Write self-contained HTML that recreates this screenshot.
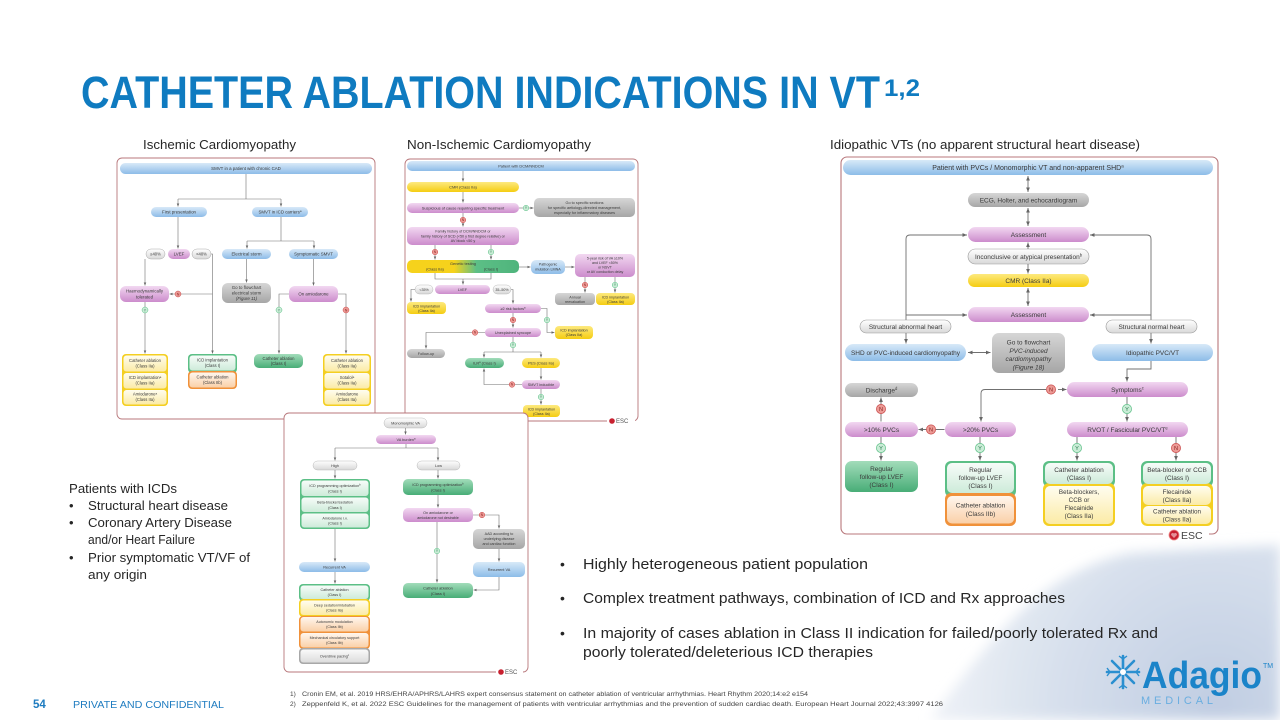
<!DOCTYPE html>
<html><head><meta charset="utf-8"><style>
html,body{margin:0;padding:0;background:#fff}
svg{display:block}
.n{font-family:"Liberation Sans",sans-serif;text-anchor:middle;fill:#3a3a3a}
.c{stroke:#707070;stroke-width:.6;fill:none}
.c2{stroke:#707070;stroke-width:.9;fill:none}
.f{fill:#fff;stroke:#b8777b;stroke-width:.9}
.t{font-family:"Liberation Sans",sans-serif;fill:#262626}
</style></head><body>
<svg width="1280" height="720" viewBox="0 0 1280 720" xmlns="http://www.w3.org/2000/svg">
<defs>
<linearGradient id="gb" x1="0" y1="0" x2="0" y2="1"><stop offset="0" stop-color="#d8e9f8"/><stop offset="1" stop-color="#8dbce8"/></linearGradient>
<linearGradient id="gp" x1="0" y1="0" x2="0" y2="1"><stop offset="0" stop-color="#f2d8f1"/><stop offset="1" stop-color="#cc8ccc"/></linearGradient>
<linearGradient id="gg" x1="0" y1="0" x2="0" y2="1"><stop offset="0" stop-color="#d6d6d6"/><stop offset="1" stop-color="#a6a6a6"/></linearGradient>
<linearGradient id="gl" x1="0" y1="0" x2="0" y2="1"><stop offset="0" stop-color="#ffffff"/><stop offset="1" stop-color="#d8d8d8"/></linearGradient>
<linearGradient id="gy" x1="0" y1="0" x2="0" y2="1"><stop offset="0" stop-color="#fde97f"/><stop offset="1" stop-color="#f5cd12"/></linearGradient>
<linearGradient id="gn" x1="0" y1="0" x2="0" y2="1"><stop offset="0" stop-color="#a2dcba"/><stop offset="1" stop-color="#48ad77"/></linearGradient>
<linearGradient id="gt" x1="0" y1="0" x2="1" y2="0"><stop offset="0" stop-color="#f6d21c"/><stop offset=".42" stop-color="#f6d21c"/><stop offset=".62" stop-color="#5cbf86"/><stop offset="1" stop-color="#4fb47c"/></linearGradient>
<linearGradient id="gyl" x1="0" y1="0" x2="0" y2="1"><stop offset="0" stop-color="#fffdf0"/><stop offset="1" stop-color="#fbeba6"/></linearGradient>
<linearGradient id="gnl" x1="0" y1="0" x2="0" y2="1"><stop offset="0" stop-color="#f7fcf9"/><stop offset="1" stop-color="#cdebd9"/></linearGradient>
<linearGradient id="gol" x1="0" y1="0" x2="0" y2="1"><stop offset="0" stop-color="#fff6ee"/><stop offset="1" stop-color="#fad0a8"/></linearGradient>
<linearGradient id="ggl" x1="0" y1="0" x2="0" y2="1"><stop offset="0" stop-color="#fafafa"/><stop offset="1" stop-color="#dcdcdc"/></linearGradient>
<radialGradient id="fr" cx="1215" cy="705" r="340" gradientUnits="userSpaceOnUse"><stop offset="0" stop-color="#c0cde2"/><stop offset=".45" stop-color="#d6dfec"/><stop offset=".8" stop-color="#ecf0f6"/><stop offset="1" stop-color="#ffffff"/></radialGradient>
<filter id="bl" x="-20%" y="-20%" width="140%" height="140%"><feGaussianBlur stdDeviation="6"/></filter>
<marker id="a" viewBox="0 0 6 6" refX="6" refY="3" markerWidth="3" markerHeight="3" markerUnits="userSpaceOnUse" orient="auto-start-reverse"><path d="M0,.5 L6,3 L0,5.5z" fill="#666"/></marker>
<marker id="b" viewBox="0 0 6 6" refX="6" refY="3" markerWidth="4.5" markerHeight="4.5" markerUnits="userSpaceOnUse" orient="auto-start-reverse"><path d="M0,.5 L6,3 L0,5.5z" fill="#666"/></marker>
</defs>

<!-- frost background -->
<path d="M930,720 C990,640 1040,572 1130,553 L1280,545 L1280,720 Z" fill="url(#fr)" filter="url(#bl)"/>

<!-- Title -->
<text x="81" y="108" class="t" font-size="45" font-weight="bold" fill="#0f7bc0" style="fill:#0f7bc0" textLength="799" lengthAdjust="spacingAndGlyphs">CATHETER ABLATION INDICATIONS IN VT</text>
<text x="884" y="96" class="t" font-size="24" font-weight="bold" style="fill:#0f7bc0" textLength="36" lengthAdjust="spacingAndGlyphs">1,2</text>

<!-- subheadings -->
<text x="143" y="149" class="t" font-size="12.5" textLength="153" lengthAdjust="spacingAndGlyphs">Ischemic Cardiomyopathy</text>
<text x="407" y="149" class="t" font-size="12.5" textLength="184" lengthAdjust="spacingAndGlyphs">Non-Ischemic Cardiomyopathy</text>
<text x="830" y="149" class="t" font-size="12.5" textLength="310" lengthAdjust="spacingAndGlyphs">Idiopathic VTs (no apparent structural heart disease)</text>

<!-- ================= LEFT CHART ================= -->
<rect x="117" y="158" width="258" height="261" rx="5" class="f"/>
<rect x="120" y="163" width="252" height="11" rx="5.5" fill="url(#gb)"/>
<text x="246" y="170" class="n" font-size="4.4">SMVT in a patient with chronic CAD</text>
<path class="c" d="M246,174 V199 M178,199 H281"/>
<line class="c" x1="178" y1="199" x2="178" y2="206.5" marker-end="url(#a)"/>
<line class="c" x1="281" y1="199" x2="281" y2="206.5" marker-end="url(#a)"/>
<rect x="151" y="207" width="56" height="10" rx="5" fill="url(#gb)"/>
<text x="179" y="213.5" class="n" font-size="4.4">First presentation</text>
<rect x="252" y="207" width="56" height="10" rx="5" fill="url(#gb)"/>
<text x="280" y="213.5" class="n" font-size="4.4">SMVT in ICD carriers<tspan font-size="3" dy="-1.5">a</tspan></text>
<line class="c" x1="178" y1="217" x2="178" y2="248.5" marker-end="url(#a)"/>
<rect x="146" y="249" width="19" height="10" rx="5" fill="url(#gl)" stroke="#aaa" stroke-width=".5"/>
<text x="155.5" y="255.5" class="n" font-size="4.2">≥40%</text>
<rect x="168" y="249" width="22" height="10" rx="5" fill="url(#gp)"/>
<text x="179" y="255.5" class="n" font-size="4.4">LVEF</text>
<rect x="192" y="249" width="19" height="10" rx="5" fill="url(#gl)" stroke="#aaa" stroke-width=".5"/>
<text x="201.5" y="255.5" class="n" font-size="4.2">&lt;40%</text>
<path class="c" d="M281,217 V241 M247,241 H314"/>
<line class="c" x1="247" y1="241" x2="247" y2="248.5" marker-end="url(#a)"/>
<line class="c" x1="314" y1="241" x2="314" y2="248.5" marker-end="url(#a)"/>
<rect x="222" y="249" width="49" height="10" rx="5" fill="url(#gb)"/>
<text x="246.5" y="255.5" class="n" font-size="4.4">Electrical storm</text>
<rect x="289" y="249" width="49" height="10" rx="5" fill="url(#gb)"/>
<text x="313.5" y="255.5" class="n" font-size="4.4">Symptomatic SMVT</text>
<line class="c" x1="145" y1="259" x2="145" y2="285.5" marker-end="url(#a)"/>
<rect x="120" y="286" width="49" height="16" rx="6" fill="url(#gp)"/>
<text x="144.5" y="292.5" class="n" font-size="4.4">Haemodynamically</text>
<text x="144.5" y="298.5" class="n" font-size="4.4">tolerated</text>
<path class="c" d="M211,254 H212.5 V353.5" marker-end="url(#a)"/>
<line class="c" x1="212.5" y1="294" x2="169.5" y2="294" marker-end="url(#a)"/>
<line class="c" x1="145" y1="302" x2="145" y2="353.5" marker-end="url(#a)"/>
<line class="c" x1="246.5" y1="259" x2="246.5" y2="282.5" marker-end="url(#a)"/>
<rect x="222" y="283" width="49" height="20" rx="6" fill="url(#gg)"/>
<text x="246.5" y="289" class="n" font-size="4.4">Go to flowchart</text>
<text x="246.5" y="294.5" class="n" font-size="4.4">electrical storm</text>
<text x="246.5" y="300" class="n" font-size="4.4" font-style="italic">(Figure 11)</text>
<line class="c" x1="313.5" y1="259" x2="313.5" y2="285.5" marker-end="url(#a)"/>
<rect x="289" y="286" width="49" height="16" rx="6" fill="url(#gp)"/>
<text x="313.5" y="295.5" class="n" font-size="4.4">On amiodarone</text>
<path class="c" d="M289,294 H279 V353.5" marker-end="url(#a)"/>
<path class="c" d="M338,294 H346 V353.5" marker-end="url(#a)"/>
<g><circle cx="178" cy="294" r="3" fill="#ec9a95" stroke="#c9494a" stroke-width=".5"/><text x="178" y="295.3" class="n" font-size="3.6" style="fill:#8a1f1f">N</text></g>
<g><circle cx="145" cy="310" r="3" fill="#c9ecd6" stroke="#5cbf86" stroke-width=".5"/><text x="145" y="311.3" class="n" font-size="3.6" style="fill:#2a7a4e">Y</text></g>
<g><circle cx="279" cy="310" r="3" fill="#c9ecd6" stroke="#5cbf86" stroke-width=".5"/><text x="279" y="311.3" class="n" font-size="3.6" style="fill:#2a7a4e">Y</text></g>
<g><circle cx="346" cy="310" r="3" fill="#ec9a95" stroke="#c9494a" stroke-width=".5"/><text x="346" y="311.3" class="n" font-size="3.6" style="fill:#8a1f1f">N</text></g>
<!-- left stacks -->
<rect x="122" y="354" width="46" height="52" rx="4" fill="#f4cf22"/>
<rect x="123.5" y="355.5" width="43" height="16" rx="3" fill="url(#gyl)"/>
<rect x="123.5" y="373" width="43" height="15.5" rx="3" fill="url(#gyl)"/>
<rect x="123.5" y="390" width="43" height="14.5" rx="3" fill="url(#gyl)"/>
<text x="145" y="362" class="n" font-size="4.2">Catheter ablation</text><text x="145" y="367.5" class="n" font-size="4.2">(Class IIa)</text>
<text x="145" y="379.2" class="n" font-size="4.2">ICD implantation<tspan font-size="3" dy="-1.4">a</tspan></text><text x="145" y="384.7" class="n" font-size="4.2">(Class IIa)</text>
<text x="145" y="395.7" class="n" font-size="4.2">Amiodarone<tspan font-size="3" dy="-1.4">a</tspan></text><text x="145" y="401.2" class="n" font-size="4.2">(Class IIa)</text>
<rect x="188" y="354" width="49" height="19" rx="4" fill="#5cbf86"/>
<rect x="188" y="371" width="49" height="18" rx="4" fill="#f0913a"/>
<rect x="189.5" y="355.5" width="46" height="15" rx="3" fill="url(#gnl)"/>
<rect x="189.5" y="372.5" width="46" height="15" rx="3" fill="url(#gol)"/>
<text x="212.5" y="361.5" class="n" font-size="4.2">ICD implantation</text><text x="212.5" y="367" class="n" font-size="4.2">(Class I)</text>
<text x="212.5" y="378.5" class="n" font-size="4.2">Catheter ablation</text><text x="212.5" y="384" class="n" font-size="4.2">(Class IIb)</text>
<rect x="254" y="354" width="49" height="14" rx="5" fill="url(#gn)"/>
<text x="278.5" y="359.8" class="n" font-size="4.2">Catheter ablation</text><text x="278.5" y="365" class="n" font-size="4.2">(Class I)</text>
<rect x="323" y="354" width="48" height="52" rx="4" fill="#f4cf22"/>
<rect x="324.5" y="355.5" width="45" height="16" rx="3" fill="url(#gyl)"/>
<rect x="324.5" y="373" width="45" height="15.5" rx="3" fill="url(#gyl)"/>
<rect x="324.5" y="390" width="45" height="14.5" rx="3" fill="url(#gyl)"/>
<text x="347" y="362" class="n" font-size="4.2">Catheter ablation</text><text x="347" y="367.5" class="n" font-size="4.2">(Class IIa)</text>
<text x="347" y="379.2" class="n" font-size="4.2">Sotalol<tspan font-size="3" dy="-1.4">a</tspan></text><text x="347" y="384.7" class="n" font-size="4.2">(Class IIa)</text>
<text x="347" y="395.7" class="n" font-size="4.2">Amiodarone</text><text x="347" y="401.2" class="n" font-size="4.2">(Class IIa)</text>

<!-- ================= MIDDLE CHART ================= -->
<rect x="405" y="159" width="233" height="262" rx="5" class="f"/>
<rect x="407" y="161" width="228" height="10" rx="5" fill="url(#gb)"/>
<text x="521" y="167.3" class="n" font-size="3.9">Patient with DCM/NNDCM</text>
<line class="c" x1="463" y1="171" x2="463" y2="181.5" marker-end="url(#a)"/>
<rect x="407" y="182" width="112" height="10" rx="5" fill="url(#gy)"/>
<text x="463" y="188.3" class="n" font-size="3.9">CMR (Class IIa)</text>
<line class="c" x1="463" y1="192" x2="463" y2="202.5" marker-end="url(#a)"/>
<rect x="407" y="203" width="112" height="10" rx="5" fill="url(#gp)"/>
<text x="463" y="209.3" class="n" font-size="3.9">Suspicious of cause requiring specific treatment</text>
<line class="c" x1="519" y1="208" x2="533.5" y2="208" marker-end="url(#a)"/>
<rect x="534" y="198" width="101" height="19" rx="5" fill="url(#gg)"/>
<text x="584.5" y="204" class="n" font-size="3.8">Go to specific sections</text>
<text x="584.5" y="209" class="n" font-size="3.8">for specific aetiology-directed management,</text>
<text x="584.5" y="214" class="n" font-size="3.8">especially for inflammatory diseases</text>
<line class="c" x1="463" y1="213" x2="463" y2="226.5" marker-end="url(#a)"/>
<rect x="407" y="227" width="112" height="18" rx="5" fill="url(#gp)"/>
<text x="463" y="232.5" class="n" font-size="3.7">Family history of DCM/NNDCM or</text>
<text x="463" y="237.3" class="n" font-size="3.7">family history of SCD (&lt;50 y first degree relative) or</text>
<text x="463" y="242.1" class="n" font-size="3.7">AV block &lt;50 y</text>
<line class="c" x1="435" y1="245" x2="435" y2="259.5" marker-end="url(#a)"/>
<line class="c" x1="491" y1="245" x2="491" y2="259.5" marker-end="url(#a)"/>
<rect x="407" y="260" width="112" height="13" rx="5" fill="url(#gt)"/>
<text x="463" y="265" class="n" font-size="3.9">Genetic testing</text>
<text x="435" y="270.5" class="n" font-size="3.9">(Class IIa)</text>
<text x="491" y="270.5" class="n" font-size="3.9">(Class I)</text>
<line class="c" x1="519" y1="267" x2="530.5" y2="267" marker-end="url(#a)"/>
<rect x="531" y="260" width="34" height="14" rx="5" fill="url(#gb)"/>
<text x="548" y="265.5" class="n" font-size="3.7">Pathogenic</text><text x="548" y="270.3" class="n" font-size="3.7">mutation LMNA</text>
<line class="c" x1="565" y1="267" x2="574.5" y2="267" marker-end="url(#a)"/>
<rect x="575" y="254" width="60" height="23" rx="5" fill="url(#gp)"/>
<text x="605" y="259.7" class="n" font-size="3.6">5-year risk of VA ≥10%</text>
<text x="605" y="264.2" class="n" font-size="3.6">and LVEF &lt;50%</text>
<text x="605" y="268.7" class="n" font-size="3.6">or NSVT</text>
<text x="605" y="273.2" class="n" font-size="3.6">or AV conduction delay</text>
<line class="c" x1="585" y1="277" x2="585" y2="292.5" marker-end="url(#a)"/>
<line class="c" x1="615" y1="277" x2="615" y2="292.5" marker-end="url(#a)"/>
<rect x="555" y="293" width="40" height="12" rx="4" fill="url(#gg)"/>
<text x="575" y="298.3" class="n" font-size="3.7">Annual</text><text x="575" y="302.8" class="n" font-size="3.7">reevaluation</text>
<rect x="596" y="293" width="39" height="12" rx="4" fill="url(#gy)"/>
<text x="615.5" y="298.3" class="n" font-size="3.7">ICD implantation</text><text x="615.5" y="302.8" class="n" font-size="3.7">(Class IIa)</text>
<path class="c" d="M435,273 V279 H491 V273"/>
<line class="c" x1="463" y1="279" x2="463" y2="284.5" marker-end="url(#a)"/>
<rect x="435" y="285" width="55" height="9" rx="4.5" fill="url(#gp)"/>
<text x="462.5" y="290.8" class="n" font-size="3.8">LVEF</text>
<rect x="415" y="285" width="18" height="9" rx="4.5" fill="url(#gl)" stroke="#aaa" stroke-width=".4"/>
<text x="424" y="290.8" class="n" font-size="3.6">&lt;35%</text>
<rect x="493" y="285" width="18" height="9" rx="4.5" fill="url(#gl)" stroke="#aaa" stroke-width=".4"/>
<text x="502" y="290.8" class="n" font-size="3.6">35–50%</text>
<path class="c" d="M415,289.5 H411 V301.5" marker-end="url(#a)"/>
<rect x="407" y="302" width="39" height="12" rx="4" fill="url(#gy)"/>
<text x="426.5" y="307.3" class="n" font-size="3.7">ICD implantation</text><text x="426.5" y="311.8" class="n" font-size="3.7">(Class IIa)</text>
<path class="c" d="M511,289.5 H513 V303.5" marker-end="url(#a)"/>
<rect x="485" y="304" width="56" height="9" rx="4.5" fill="url(#gp)"/>
<text x="513" y="309.8" class="n" font-size="3.8">≥2 risk factors<tspan font-size="2.7" dy="-1.3">a</tspan></text>
<path class="c" d="M541,308.5 H547 V332.5 H554.5" marker-end="url(#a)"/>
<rect x="555" y="326" width="38" height="13" rx="4" fill="url(#gy)"/>
<text x="574" y="331.7" class="n" font-size="3.7">ICD implantation</text><text x="574" y="336.2" class="n" font-size="3.7">(Class IIa)</text>
<line class="c" x1="513" y1="313" x2="513" y2="327.5" marker-end="url(#a)"/>
<rect x="485" y="328" width="56" height="9" rx="4.5" fill="url(#gp)"/>
<text x="513" y="333.8" class="n" font-size="3.8">Unexplained syncope</text>
<path class="c" d="M485,332.5 H426 V348.5" marker-end="url(#a)"/>
<rect x="407" y="349" width="38" height="9" rx="4.5" fill="url(#gg)"/>
<text x="426" y="354.8" class="n" font-size="3.8">Follow-up</text>
<path class="c" d="M513,337 V352 M484,352 H541"/>
<line class="c" x1="484" y1="352" x2="484" y2="357.5" marker-end="url(#a)"/>
<line class="c" x1="541" y1="352" x2="541" y2="357.5" marker-end="url(#a)"/>
<rect x="465" y="358" width="39" height="10" rx="5" fill="url(#gn)"/>
<text x="484.5" y="364.3" class="n" font-size="3.8">ILR<tspan font-size="2.7" dy="-1.3">a</tspan><tspan dy="1.3"> (Class I)</tspan></text>
<rect x="522" y="358" width="38" height="10" rx="5" fill="url(#gy)"/>
<text x="541" y="364.3" class="n" font-size="3.8">PES (Class IIa)</text>
<line class="c" x1="541" y1="368" x2="541" y2="379.5" marker-end="url(#a)"/>
<rect x="522" y="380" width="38" height="9" rx="4.5" fill="url(#gp)"/>
<text x="541" y="385.8" class="n" font-size="3.8">SMVT inducible</text>
<path class="c" d="M522,384.5 H484 V368.5" marker-end="url(#a)"/>
<line class="c" x1="541" y1="389" x2="541" y2="404.5" marker-end="url(#a)"/>
<rect x="523" y="405" width="37" height="12" rx="4" fill="url(#gy)"/>
<text x="541.5" y="410.3" class="n" font-size="3.7">ICD implantation</text><text x="541.5" y="414.8" class="n" font-size="3.7">(Class IIa)</text>
<g><circle cx="526" cy="208" r="2.8" fill="#c9ecd6" stroke="#5cbf86" stroke-width=".5"/><text x="526" y="209.2" class="n" font-size="3.3" style="fill:#2a7a4e">Y</text></g>
<g><circle cx="463" cy="220" r="2.8" fill="#ec9a95" stroke="#c9494a" stroke-width=".5"/><text x="463" y="221.2" class="n" font-size="3.3" style="fill:#8a1f1f">N</text></g>
<g><circle cx="435" cy="252" r="2.8" fill="#ec9a95" stroke="#c9494a" stroke-width=".5"/><text x="435" y="253.2" class="n" font-size="3.3" style="fill:#8a1f1f">N</text></g>
<g><circle cx="491" cy="252" r="2.8" fill="#c9ecd6" stroke="#5cbf86" stroke-width=".5"/><text x="491" y="253.2" class="n" font-size="3.3" style="fill:#2a7a4e">Y</text></g>
<g><circle cx="585" cy="285" r="2.8" fill="#ec9a95" stroke="#c9494a" stroke-width=".5"/><text x="585" y="286.2" class="n" font-size="3.3" style="fill:#8a1f1f">N</text></g>
<g><circle cx="615" cy="285" r="2.8" fill="#c9ecd6" stroke="#5cbf86" stroke-width=".5"/><text x="615" y="286.2" class="n" font-size="3.3" style="fill:#2a7a4e">Y</text></g>
<g><circle cx="547" cy="320" r="2.8" fill="#c9ecd6" stroke="#5cbf86" stroke-width=".5"/><text x="547" y="321.2" class="n" font-size="3.3" style="fill:#2a7a4e">Y</text></g>
<g><circle cx="513" cy="320" r="2.8" fill="#ec9a95" stroke="#c9494a" stroke-width=".5"/><text x="513" y="321.2" class="n" font-size="3.3" style="fill:#8a1f1f">N</text></g>
<g><circle cx="475" cy="332.5" r="2.8" fill="#ec9a95" stroke="#c9494a" stroke-width=".5"/><text x="475" y="333.7" class="n" font-size="3.3" style="fill:#8a1f1f">N</text></g>
<g><circle cx="513" cy="345" r="2.8" fill="#c9ecd6" stroke="#5cbf86" stroke-width=".5"/><text x="513" y="346.2" class="n" font-size="3.3" style="fill:#2a7a4e">Y</text></g>
<g><circle cx="512" cy="384.5" r="2.8" fill="#ec9a95" stroke="#c9494a" stroke-width=".5"/><text x="512" y="385.7" class="n" font-size="3.3" style="fill:#8a1f1f">N</text></g>
<g><circle cx="541" cy="397" r="2.8" fill="#c9ecd6" stroke="#5cbf86" stroke-width=".5"/><text x="541" y="398.2" class="n" font-size="3.3" style="fill:#2a7a4e">Y</text></g>
<!-- ESC middle -->
<rect x="607" y="418" width="28" height="6" fill="#fff"/>
<circle cx="612" cy="421" r="2.8" fill="#c8202f"/>
<text x="616" y="423.2" font-family="Liberation Sans, sans-serif" font-size="6" fill="#555">ESC</text>

<!-- ================= BOTTOM CHART ================= -->
<rect x="284" y="413" width="244" height="259" rx="5" class="f"/>
<rect x="384" y="418" width="43" height="10" rx="5" fill="url(#gl)" stroke="#aaa" stroke-width=".4"/>
<text x="405.5" y="424.3" class="n" font-size="3.8">Monomorphic VA</text>
<line class="c" x1="405.5" y1="428" x2="405.5" y2="434.5" marker-end="url(#a)"/>
<rect x="376" y="435" width="60" height="9" rx="4.5" fill="url(#gp)"/>
<text x="406" y="440.8" class="n" font-size="3.8">VA burden<tspan font-size="2.7" dy="-1.3">a</tspan></text>
<path class="c" d="M406,444 V448 M335,448 H438"/>
<line class="c" x1="335" y1="448" x2="335" y2="460.5" marker-end="url(#a)"/>
<line class="c" x1="438" y1="448" x2="438" y2="460.5" marker-end="url(#a)"/>
<rect x="313" y="461" width="44" height="9" rx="4.5" fill="url(#gl)" stroke="#aaa" stroke-width=".4"/>
<text x="335" y="466.8" class="n" font-size="3.8">High</text>
<rect x="417" y="461" width="43" height="9" rx="4.5" fill="url(#gl)" stroke="#aaa" stroke-width=".4"/>
<text x="438.5" y="466.8" class="n" font-size="3.8">Low</text>
<line class="c" x1="335" y1="470" x2="335" y2="478.5" marker-end="url(#a)"/>
<rect x="300" y="479" width="70" height="50" rx="4" fill="#5cbf86"/>
<rect x="301.5" y="480.5" width="67" height="15.5" rx="3" fill="url(#gnl)"/>
<rect x="301.5" y="497.5" width="67" height="14.5" rx="3" fill="url(#gnl)"/>
<rect x="301.5" y="513.5" width="67" height="14" rx="3" fill="url(#gnl)"/>
<text x="335" y="487" class="n" font-size="3.7">ICD programming optimization<tspan font-size="2.7" dy="-1.3">b</tspan></text><text x="335" y="492.3" class="n" font-size="3.7">(Class I)</text>
<text x="335" y="503.5" class="n" font-size="3.7">Beta-blocker/sedation</text><text x="335" y="508.8" class="n" font-size="3.7">(Class I)</text>
<text x="335" y="519.3" class="n" font-size="3.7">Amiodarone i.v.</text><text x="335" y="524.6" class="n" font-size="3.7">(Class I)</text>
<line class="c" x1="335" y1="529" x2="335" y2="561.5" marker-end="url(#a)"/>
<rect x="299" y="562" width="71" height="10" rx="5" fill="url(#gb)"/>
<text x="334.5" y="568.3" class="n" font-size="3.8">Recurrent VA</text>
<line class="c" x1="335" y1="572" x2="335" y2="583.5" marker-end="url(#a)"/>
<rect x="299" y="584" width="71" height="17" rx="4" fill="#5cbf86"/>
<rect x="299" y="599" width="71" height="18" rx="4" fill="#f4cf22"/>
<rect x="299" y="616" width="71" height="33" rx="4" fill="#f0913a"/>
<rect x="299" y="648" width="71" height="16" rx="4" fill="#a8a8a8"/>
<rect x="300.5" y="585.5" width="68" height="13.5" rx="3" fill="url(#gnl)"/>
<rect x="300.5" y="600.5" width="68" height="14.5" rx="3" fill="url(#gyl)"/>
<rect x="300.5" y="617" width="68" height="14.5" rx="3" fill="url(#gol)"/>
<rect x="300.5" y="633" width="68" height="14.5" rx="3" fill="url(#gol)"/>
<rect x="300.5" y="649.5" width="68" height="13" rx="3" fill="url(#ggl)"/>
<text x="334.5" y="591" class="n" font-size="3.7">Catheter ablation</text><text x="334.5" y="596.2" class="n" font-size="3.7">(Class I)</text>
<text x="334.5" y="606.5" class="n" font-size="3.7">Deep sedation/intubation</text><text x="334.5" y="611.7" class="n" font-size="3.7">(Class IIa)</text>
<text x="334.5" y="623" class="n" font-size="3.7">Autonomic modulation</text><text x="334.5" y="628.2" class="n" font-size="3.7">(Class IIb)</text>
<text x="334.5" y="639" class="n" font-size="3.7">Mechanical circulatory support</text><text x="334.5" y="644.2" class="n" font-size="3.7">(Class IIb)</text>
<text x="334.5" y="657.3" class="n" font-size="3.7">Overdrive pacing<tspan font-size="2.7" dy="-1.3">c</tspan></text>
<line class="c" x1="438" y1="470" x2="438" y2="478.5" marker-end="url(#a)"/>
<rect x="403" y="479" width="70" height="16" rx="5" fill="url(#gn)"/>
<text x="438" y="486" class="n" font-size="3.7">ICD programming optimization<tspan font-size="2.7" dy="-1.3">b</tspan></text><text x="438" y="491.3" class="n" font-size="3.7">(Class I)</text>
<line class="c" x1="438" y1="495" x2="438" y2="507.5" marker-end="url(#a)"/>
<rect x="403" y="508" width="70" height="14" rx="5" fill="url(#gp)"/>
<text x="438" y="514" class="n" font-size="3.7">On amiodarone or</text><text x="438" y="519" class="n" font-size="3.7">amiodarone not desirable</text>
<path class="c" d="M473,515 H499 V528.5" marker-end="url(#a)"/>
<rect x="473" y="529" width="52" height="20" rx="5" fill="url(#gg)"/>
<text x="499" y="535" class="n" font-size="3.7">AAD according to</text><text x="499" y="540" class="n" font-size="3.7">underlying disease</text><text x="499" y="545" class="n" font-size="3.7">and cardiac function</text>
<line class="c" x1="499" y1="549" x2="499" y2="561.5" marker-end="url(#a)"/>
<rect x="473" y="562" width="52" height="15" rx="5" fill="url(#gb)"/>
<text x="499" y="570.8" class="n" font-size="3.8">Recurrent VA</text>
<line class="c" x1="437" y1="522" x2="437" y2="582.5" marker-end="url(#a)"/>
<path class="c" d="M499,577 V590 H473.5" marker-end="url(#a)"/>
<rect x="403" y="583" width="70" height="15" rx="5" fill="url(#gn)"/>
<text x="438" y="589.5" class="n" font-size="3.9">Catheter ablation</text><text x="438" y="594.8" class="n" font-size="3.9">(Class I)</text>
<g><circle cx="482" cy="515" r="2.8" fill="#ec9a95" stroke="#c9494a" stroke-width=".5"/><text x="482" y="516.2" class="n" font-size="3.3" style="fill:#8a1f1f">N</text></g>
<g><circle cx="437" cy="551" r="2.8" fill="#c9ecd6" stroke="#5cbf86" stroke-width=".5"/><text x="437" y="552.2" class="n" font-size="3.3" style="fill:#2a7a4e">Y</text></g>
<rect x="496" y="669" width="27" height="6" fill="#fff"/>
<circle cx="501" cy="672" r="2.8" fill="#c8202f"/>
<text x="505" y="674.2" font-family="Liberation Sans, sans-serif" font-size="6" fill="#555">ESC</text>

<!-- ================= RIGHT CHART ================= -->
<rect x="841" y="157" width="377" height="377" rx="6" fill="#fff" stroke="#b8777b" stroke-width="1.1"/>
<rect x="843" y="160" width="370" height="15" rx="7.5" fill="url(#gb)"/>
<text x="1028" y="170" class="n" font-size="7">Patient with PVCs / Monomorphic VT and non-apparent SHD<tspan font-size="4.5" dy="-2.5">a</tspan></text>
<line class="c2" x1="1028" y1="176" x2="1028" y2="192" marker-start="url(#b)" marker-end="url(#b)"/>
<rect x="968" y="193" width="121" height="14" rx="7" fill="url(#gg)"/>
<text x="1028.5" y="202.3" class="n" font-size="6.5">ECG, Holter, and echocardiogram</text>
<line class="c2" x1="1028" y1="208" x2="1028" y2="226" marker-start="url(#b)" marker-end="url(#b)"/>
<rect x="968" y="227" width="121" height="15" rx="7.5" fill="url(#gp)"/>
<text x="1028.5" y="236.8" class="n" font-size="6.5">Assessment</text>
<line class="c2" x1="1028" y1="249" x2="1028" y2="242.5" marker-end="url(#b)"/>
<rect x="968" y="249" width="121" height="15" rx="7.5" fill="url(#gl)" stroke="#999" stroke-width=".6"/>
<text x="1028.5" y="258.8" class="n" font-size="6.5">Inconclusive or atypical presentation<tspan font-size="4.2" dy="-2.3">b</tspan></text>
<line class="c2" x1="1028" y1="264" x2="1028" y2="273.5" marker-end="url(#b)"/>
<rect x="968" y="274" width="121" height="13" rx="6.5" fill="url(#gy)"/>
<text x="1028.5" y="282.8" class="n" font-size="6.5">CMR (Class IIa)</text>
<line class="c2" x1="1028" y1="288" x2="1028" y2="306" marker-start="url(#b)" marker-end="url(#b)"/>
<rect x="968" y="307" width="121" height="15" rx="7.5" fill="url(#gp)"/>
<text x="1028.5" y="316.8" class="n" font-size="6.5">Assessment</text>
<path class="c2" d="M906,320 V239 Q906,235 910,235 H967" marker-end="url(#b)"/>
<line class="c2" x1="906" y1="315" x2="967" y2="315" marker-end="url(#b)"/>
<path class="c2" d="M1151,320 V239 Q1151,235 1147,235 H1090" marker-end="url(#b)"/>
<line class="c2" x1="1151" y1="315" x2="1090" y2="315" marker-end="url(#b)"/>
<rect x="860" y="320" width="91" height="13" rx="6.5" fill="url(#gl)" stroke="#999" stroke-width=".6"/>
<text x="905.5" y="328.8" class="n" font-size="6.5">Structural abnormal heart</text>
<rect x="1106" y="320" width="91" height="13" rx="6.5" fill="url(#gl)" stroke="#999" stroke-width=".6"/>
<text x="1151.5" y="328.8" class="n" font-size="6.5">Structural normal heart</text>
<line class="c2" x1="906" y1="333" x2="906" y2="343.5" marker-end="url(#b)"/>
<rect x="845" y="344" width="121" height="17" rx="8.5" fill="url(#gb)"/>
<text x="905.5" y="354.8" class="n" font-size="6.5">SHD or PVC-induced cardiomyopathy</text>
<line class="c2" x1="968" y1="352.5" x2="990.5" y2="352.5" marker-start="url(#b)" marker-end="url(#b)"/>
<rect x="992" y="333" width="73" height="40" rx="7" fill="url(#gg)"/>
<text x="1028.5" y="344.5" class="n" font-size="6.5">Go to flowchart</text>
<text x="1028.5" y="352.8" class="n" font-size="6.5" font-style="italic">PVC-induced</text>
<text x="1028.5" y="361.1" class="n" font-size="6.5" font-style="italic">cardiomyopathy</text>
<text x="1028.5" y="369.4" class="n" font-size="6.5" font-style="italic">(Figure 18)</text>
<line class="c2" x1="1151" y1="333" x2="1151" y2="343.5" marker-end="url(#b)"/>
<rect x="1092" y="344" width="121" height="17" rx="8.5" fill="url(#gb)"/>
<text x="1152.5" y="354.8" class="n" font-size="6.5">Idiopathic PVC/VT</text>
<path class="c2" d="M1151,361 V369 H1127 V381.5" marker-end="url(#b)"/>
<rect x="1067" y="382" width="121" height="15" rx="7.5" fill="url(#gp)"/>
<text x="1127.5" y="391.8" class="n" font-size="6.5">Symptoms<tspan font-size="4.2" dy="-2.3">c</tspan></text>
<line class="c2" x1="1058" y1="389.5" x2="1066.5" y2="389.5" marker-end="url(#b)"/>
<path class="c2" d="M1046,389.5 H985 Q981,389.5 981,393.5 V421.5" marker-end="url(#b)"/>
<rect x="845" y="383" width="73" height="14" rx="7" fill="url(#gg)"/>
<text x="881.5" y="392.3" class="n" font-size="6.5">Discharge<tspan font-size="4.2" dy="-2.3">d</tspan></text>
<line class="c2" x1="881" y1="421.5" x2="881" y2="397.5" marker-end="url(#b)"/>
<rect x="845" y="422" width="73" height="15" rx="7.5" fill="url(#gp)"/>
<text x="881.5" y="431.8" class="n" font-size="6.5">&gt;10% PVCs</text>
<line class="c2" x1="944.5" y1="429.5" x2="918.5" y2="429.5" marker-end="url(#b)"/>
<rect x="945" y="422" width="71" height="15" rx="7.5" fill="url(#gp)"/>
<text x="980.5" y="431.8" class="n" font-size="6.5">&gt;20% PVCs</text>
<line class="c2" x1="1127" y1="397" x2="1127" y2="421.5" marker-end="url(#b)"/>
<rect x="1067" y="422" width="121" height="15" rx="7.5" fill="url(#gp)"/>
<text x="1127.5" y="431.8" class="n" font-size="6.5">RVOT / Fascicular PVC/VT<tspan font-size="4.2" dy="-2.3">e</tspan></text>
<line class="c2" x1="881" y1="437" x2="881" y2="460.5" marker-end="url(#b)"/>
<line class="c2" x1="980" y1="437" x2="980" y2="460.5" marker-end="url(#b)"/>
<line class="c2" x1="1077" y1="437" x2="1077" y2="460.5" marker-end="url(#b)"/>
<line class="c2" x1="1176" y1="437" x2="1176" y2="460.5" marker-end="url(#b)"/>
<g><circle cx="1051" cy="389.5" r="4.6" fill="#ec9a95" stroke="#c9494a" stroke-width=".7"/><text x="1051" y="391.6" class="n" font-size="5.6" style="fill:#8a1f1f">N</text></g>
<g><circle cx="881" cy="409" r="4.6" fill="#ec9a95" stroke="#c9494a" stroke-width=".7"/><text x="881" y="411.1" class="n" font-size="5.6" style="fill:#8a1f1f">N</text></g>
<g><circle cx="931" cy="429.5" r="4.6" fill="#ec9a95" stroke="#c9494a" stroke-width=".7"/><text x="931" y="431.6" class="n" font-size="5.6" style="fill:#8a1f1f">N</text></g>
<g><circle cx="1127" cy="409" r="4.6" fill="#c9ecd6" stroke="#5cbf86" stroke-width=".7"/><text x="1127" y="411.1" class="n" font-size="5.6" style="fill:#2a7a4e">Y</text></g>
<g><circle cx="881" cy="448" r="4.6" fill="#c9ecd6" stroke="#5cbf86" stroke-width=".7"/><text x="881" y="450.1" class="n" font-size="5.6" style="fill:#2a7a4e">Y</text></g>
<g><circle cx="980" cy="448" r="4.6" fill="#c9ecd6" stroke="#5cbf86" stroke-width=".7"/><text x="980" y="450.1" class="n" font-size="5.6" style="fill:#2a7a4e">Y</text></g>
<g><circle cx="1077" cy="448" r="4.6" fill="#c9ecd6" stroke="#5cbf86" stroke-width=".7"/><text x="1077" y="450.1" class="n" font-size="5.6" style="fill:#2a7a4e">Y</text></g>
<g><circle cx="1176" cy="448" r="4.6" fill="#ec9a95" stroke="#c9494a" stroke-width=".7"/><text x="1176" y="450.1" class="n" font-size="5.6" style="fill:#8a1f1f">N</text></g>
<rect x="845" y="461" width="73" height="31" rx="7" fill="url(#gn)"/>
<text x="881.5" y="470.8" class="n" font-size="6.5">Regular</text><text x="881.5" y="478.8" class="n" font-size="6.5">follow-up LVEF</text><text x="881.5" y="486.8" class="n" font-size="6.5">(Class I)</text>
<rect x="945" y="461" width="71" height="36" rx="6" fill="#5cbf86"/>
<rect x="945" y="493" width="71" height="33" rx="6" fill="#f0913a"/>
<rect x="947" y="463" width="67" height="30" rx="5" fill="url(#gnl)"/>
<rect x="947" y="496" width="67" height="27.5" rx="5" fill="url(#gol)"/>
<text x="980.5" y="472" class="n" font-size="6.5">Regular</text><text x="980.5" y="480" class="n" font-size="6.5">follow-up LVEF</text><text x="980.5" y="488" class="n" font-size="6.5">(Class I)</text>
<text x="980.5" y="507.5" class="n" font-size="6.5">Catheter ablation</text><text x="980.5" y="516" class="n" font-size="6.5">(Class IIb)</text>
<rect x="1043" y="461" width="72" height="26" rx="6" fill="#5cbf86"/>
<rect x="1043" y="483" width="72" height="43" rx="6" fill="#f4cf22"/>
<rect x="1045" y="463" width="68" height="21" rx="5" fill="url(#gnl)"/>
<rect x="1045" y="486" width="68" height="38" rx="5" fill="url(#gyl)"/>
<text x="1079" y="471.8" class="n" font-size="6.5">Catheter ablation</text><text x="1079" y="480" class="n" font-size="6.5">(Class I)</text>
<text x="1079" y="494" class="n" font-size="6.3">Beta-blockers,</text><text x="1079" y="502" class="n" font-size="6.3">CCB or</text><text x="1079" y="510" class="n" font-size="6.3">Flecainide</text><text x="1079" y="518" class="n" font-size="6.3">(Class IIa)</text>
<rect x="1141" y="461" width="72" height="26" rx="6" fill="#5cbf86"/>
<rect x="1141" y="483" width="72" height="43" rx="6" fill="#f4cf22"/>
<rect x="1143" y="463" width="68" height="21" rx="5" fill="url(#gnl)"/>
<rect x="1143" y="486" width="68" height="19" rx="5" fill="url(#gyl)"/>
<rect x="1143" y="506" width="68" height="18" rx="5" fill="url(#gyl)"/>
<text x="1177" y="471.8" class="n" font-size="6.5">Beta-blocker or CCB</text><text x="1177" y="480" class="n" font-size="6.5">(Class I)</text>
<text x="1177" y="494" class="n" font-size="6.3">Flecainide</text><text x="1177" y="501.8" class="n" font-size="6.3">(Class IIa)</text>
<text x="1177" y="513.5" class="n" font-size="6.3">Catheter ablation</text><text x="1177" y="521.3" class="n" font-size="6.3">(Class IIa)</text>
<rect x="1163" y="529" width="46" height="11" fill="#fff"/>
<circle cx="1174" cy="535" r="5" fill="#c8202f" stroke="#e88" stroke-width=".8"/>
<path d="M1174,538 l-2.6,-2.6 a1.4,1.4 0 0 1 2.6,-1.8 a1.4,1.4 0 0 1 2.6,1.8 z" fill="#fff" opacity=".5"/>
<text x="1181" y="539" font-family="Liberation Sans, sans-serif" font-size="10.5" fill="#444">ESC</text>

<!-- left text -->
<text x="69" y="493" class="t" font-size="13" textLength="108" lengthAdjust="spacingAndGlyphs">Patients with ICDs</text>
<text x="69" y="510" class="t" font-size="13">•</text>
<text x="88" y="510" class="t" font-size="13" textLength="140" lengthAdjust="spacingAndGlyphs">Structural heart disease</text>
<text x="69" y="527" class="t" font-size="13">•</text>
<text x="88" y="527" class="t" font-size="13" textLength="144" lengthAdjust="spacingAndGlyphs">Coronary Artery Disease</text>
<text x="88" y="544" class="t" font-size="13" textLength="107" lengthAdjust="spacingAndGlyphs">and/or Heart Failure</text>
<text x="69" y="562" class="t" font-size="13">•</text>
<text x="88" y="562" class="t" font-size="13" textLength="162" lengthAdjust="spacingAndGlyphs">Prior symptomatic VT/VF of</text>
<text x="88" y="579" class="t" font-size="13" textLength="59" lengthAdjust="spacingAndGlyphs">any origin</text>

<!-- bottom bullets -->
<text x="560" y="569" class="t" font-size="14">•</text>
<text x="583" y="569" class="t" font-size="14.5" textLength="285" lengthAdjust="spacingAndGlyphs">Highly heterogeneous patient population</text>
<text x="560" y="603" class="t" font-size="14">•</text>
<text x="583" y="603" class="t" font-size="14.5" textLength="482" lengthAdjust="spacingAndGlyphs">Complex treatment pathways, combination of ICD and Rx approaches</text>
<text x="560" y="638" class="t" font-size="14">•</text>
<text x="583" y="638" class="t" font-size="14.5" textLength="575" lengthAdjust="spacingAndGlyphs">In majority of cases ablation in Class II indication for failed/poorly tolerated Rx and</text>
<text x="583" y="657" class="t" font-size="14.5" textLength="290" lengthAdjust="spacingAndGlyphs">poorly tolerated/deleterious ICD therapies</text>

<!-- footer -->
<text x="33" y="708" font-family="Liberation Sans, sans-serif" font-size="11.5" font-weight="bold" fill="#1f7cc0">54</text>
<text x="73" y="708" font-family="Liberation Sans, sans-serif" font-size="10.5" fill="#1f7cc0" textLength="151" lengthAdjust="spacingAndGlyphs">PRIVATE AND CONFIDENTIAL</text>
<text x="290" y="696" font-family="Liberation Sans, sans-serif" font-size="6.5" fill="#444">1)</text>
<text x="302" y="696" font-family="Liberation Sans, sans-serif" font-size="6.5" fill="#444" textLength="506" lengthAdjust="spacingAndGlyphs">Cronin EM, et al. 2019 HRS/EHRA/APHRS/LAHRS expert consensus statement on catheter ablation of ventricular arrhythmias. Heart Rhythm 2020;14:e2 e154</text>
<text x="290" y="706" font-family="Liberation Sans, sans-serif" font-size="6.5" fill="#444">2)</text>
<text x="302" y="706" font-family="Liberation Sans, sans-serif" font-size="6.5" fill="#444" textLength="641" lengthAdjust="spacingAndGlyphs">Zeppenfeld K, et al. 2022 ESC Guidelines for the management of patients with ventricular arrhythmias and the prevention of sudden cardiac death. European Heart Journal 2022;43:3997 4126</text>

<!-- Adagio logo -->
<g stroke="#2a8fd0" stroke-width="2.6" stroke-linecap="round">
<line x1="1107" y1="672" x2="1139" y2="672"/>
<line x1="1123" y1="656" x2="1123" y2="688"/>
<line x1="1112" y1="661" x2="1134" y2="683"/>
<line x1="1112" y1="683" x2="1134" y2="661"/>
</g>
<g stroke="#2a8fd0" stroke-width="1.4" fill="none">
<path d="M1107,668 l3,4 l-3,4 M1139,668 l-3,4 l3,4 M1119,656 l4,3 l4,-3 M1119,688 l4,-3 l4,3"/>
</g>
<circle cx="1123" cy="672" r="3" fill="#fff"/>
<text x="1142" y="688" font-family="Liberation Sans, sans-serif" font-size="38" font-weight="bold" fill="#1b84c9" textLength="120" lengthAdjust="spacingAndGlyphs">Adagio</text>
<text x="1263" y="668" font-family="Liberation Sans, sans-serif" font-size="7" fill="#1b84c9">TM</text>
<text x="1141" y="704" font-family="Liberation Sans, sans-serif" font-size="11" fill="#6aaee0" textLength="72" lengthAdjust="spacing">MEDICAL</text>
</svg>
</body></html>
